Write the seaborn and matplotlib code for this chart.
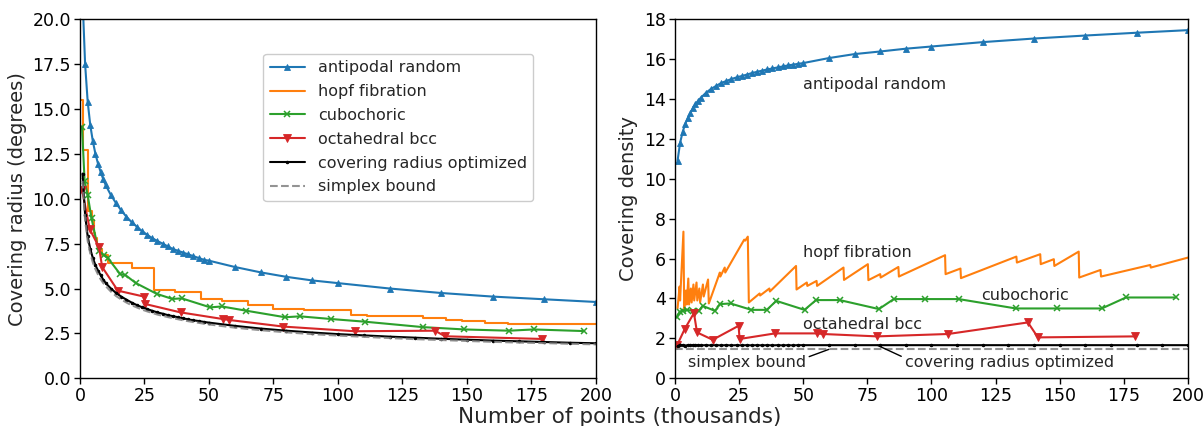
import pandas as pd
import seaborn as sns
import matplotlib.pyplot as plt

# Number of points (thousands)
dense_x = [1, 2, 3, 4, 5, 6, 7, 8, 9, 10, 12, 14, 16, 18, 20, 22, 24, 26, 28, 30,
           32, 34, 36, 38, 40, 42, 44, 46, 48, 50]
antipodal_x = dense_x + [60, 70, 80, 90, 100, 120, 140, 160, 180, 200]
antipodal_radius = [21.2, 17.5, 15.4, 14.1, 13.2, 12.5, 11.95, 11.5, 11.1, 10.75,
                    10.2, 9.75, 9.35, 9.0, 8.7, 8.45, 8.2, 8.0, 7.8, 7.65,
                    7.5, 7.35, 7.2, 7.1, 7.0, 6.9, 6.8, 6.7, 6.6, 6.55,
                    6.2, 5.9, 5.65, 5.45, 5.3, 5.0, 4.75, 4.55, 4.4, 4.25]
antipodal_density = [10.9, 11.8, 12.35, 12.75, 13.05, 13.3, 13.55, 13.75, 13.9, 14.05,
                     14.3, 14.5, 14.65, 14.8, 14.9, 15.0, 15.08, 15.15, 15.22, 15.3,
                     15.36, 15.42, 15.48, 15.53, 15.58, 15.63, 15.68, 15.72, 15.76, 15.8,
                     16.05, 16.25, 16.38, 16.52, 16.63, 16.85, 17.03, 17.18, 17.32, 17.45]

# hopf fibration: radius is a staircase, density a sawtooth
hopf_step_x = [0.3, 1.3, 3.3, 4.6, 5.3, 6.0, 6.6, 7.9, 8.6, 10.9, 20.0, 28.8, 36.8,
               46.8, 55.0, 65.0, 75.0, 86.8, 105.0, 111.3, 133.0, 142.0, 148.0,
               157.0, 166.0, 185.0, 200.0]
hopf_radius = [15.5, 12.7, 9.3, 8.8, 8.1, 7.8, 7.4, 7.2, 6.85, 6.4, 6.15, 4.89, 4.80,
               4.43, 4.28, 4.10, 3.88, 3.78, 3.55, 3.48, 3.37, 3.25, 3.18,
               3.07, 3.02, 3.0, 3.0]
hopf_saw_x = [1.0, 1.8, 2.0, 3.3, 3.6, 4.3, 4.6, 5.2, 5.5, 6.2, 6.5, 7.2, 7.5, 8.4,
              8.7, 9.5, 9.8, 10.9, 11.2, 12.9, 13.2, 17.5, 17.7, 19.4, 19.6, 27.0,
              27.4, 28.4, 28.8, 33.0, 33.2, 36.8, 37.0, 47.2, 47.4, 51.4, 51.6, 55.2,
              55.4, 65.7, 65.9, 75.2, 75.4, 80.0, 80.2, 87.1, 87.3, 105.3, 105.5,
              111.3, 111.5, 133.1, 133.3, 142.4, 142.6, 147.7, 147.9, 157.4, 157.6,
              165.9, 166.1, 185.3, 185.5, 200.0]
hopf_density = [3.5, 4.6, 3.9, 7.35, 3.4, 4.4, 3.7, 5.0, 3.7, 4.5, 3.8, 4.7, 3.9, 4.8,
                3.9, 4.5, 3.8, 4.7, 4.1, 4.95, 3.75, 5.3, 5.1, 5.55, 5.3, 6.95,
                6.9, 7.1, 3.8, 4.25, 4.15, 4.5, 4.35, 5.63, 4.45, 4.8, 4.63, 4.88,
                4.63, 5.55, 4.93, 5.72, 4.92, 5.22, 5.05, 5.58, 5.1, 6.17, 5.22,
                5.5, 5.02, 6.1, 5.8, 6.22, 5.72, 5.97, 5.63, 6.35, 5.05,
                5.43, 5.1, 5.68, 5.55, 6.05]

cubo_x = [0.8, 1.8, 3.0, 4.5, 7.2, 9.3, 10.8, 15.6, 17.6, 21.7, 29.8, 35.8, 39.5,
          50.5, 55.0, 64.2, 79.5, 85.3, 97.4, 110.6, 132.9, 149.0, 166.4, 175.8, 195.3]
cubo_radius = [14.0, 11.0, 10.2, 8.9, 7.1, 6.85, 6.7, 5.8, 5.75, 5.3, 4.7, 4.42, 4.45,
               3.95, 4.0, 3.77, 3.4, 3.45, 3.3, 3.15, 2.85, 2.72, 2.65, 2.72, 2.63]
cubo_density = [3.05, 3.33, 3.38, 3.43, 3.38, 3.38, 3.63, 3.38, 3.72, 3.75, 3.43, 3.43,
                3.88, 3.43, 3.92, 3.92, 3.47, 3.97, 3.97, 3.97, 3.5, 3.5, 3.5, 4.05, 4.05]

octa_x = [0.8, 3.8, 7.4, 8.6, 14.7, 24.8, 25.2, 39.0, 55.4, 57.7, 78.8, 106.5, 137.6,
          141.5, 179.2]
octa_radius = [10.5, 8.3, 7.3, 6.2, 4.88, 4.55, 4.14, 3.67, 3.3, 3.25, 2.88, 2.62, 2.65,
               2.34, 2.19]
octa_density = [1.65, 2.47, 3.27, 2.3, 1.93, 2.63, 1.97, 2.25, 2.25, 2.22, 2.1, 2.22, 2.8,
                2.05, 2.1]

opt_x = dense_x + [60, 70, 80, 90, 100, 110, 120, 130, 140, 150, 160, 170, 180, 190, 200]
opt_radius = [11.4, 9.1, 7.9, 7.2, 6.7, 6.3, 6.0, 5.75, 5.5, 5.3,
              5.0, 4.75, 4.55, 4.38, 4.22, 4.08, 3.96, 3.86, 3.76, 3.67,
              3.6, 3.52, 3.46, 3.4, 3.34, 3.28, 3.23, 3.19, 3.14, 3.1,
              2.92, 2.77, 2.65, 2.55, 2.46, 2.39, 2.32, 2.26, 2.2, 2.15,
              2.1, 2.06, 2.02, 1.98, 1.95]
opt_density = [1.6, 1.68, 1.66, 1.64, 1.66, 1.65, 1.66, 1.65, 1.66, 1.65,
               1.66, 1.65, 1.66, 1.65, 1.66, 1.65, 1.66, 1.65, 1.66, 1.65,
               1.66, 1.65, 1.66, 1.65, 1.66, 1.65, 1.66, 1.65, 1.66, 1.66,
               1.66, 1.66, 1.66, 1.66, 1.66, 1.66, 1.66, 1.66, 1.66, 1.66,
               1.66, 1.66, 1.66, 1.66, 1.66]

simplex_radius = [11.0, 8.8, 7.65, 6.95, 6.45, 6.08, 5.78, 5.52, 5.31, 5.13,
                  4.83, 4.58, 4.39, 4.22, 4.07, 3.95, 3.83, 3.73, 3.64, 3.55,
                  3.48, 3.41, 3.35, 3.29, 3.23, 3.18, 3.13, 3.09, 3.04, 3.0,
                  2.82, 2.68, 2.56, 2.46, 2.38, 2.31, 2.24, 2.18, 2.13, 2.08,
                  2.03, 1.99, 1.96, 1.92, 1.89]
simplex_density_x = [0.0, 200.0]
simplex_density = [1.45, 1.45]

BLUE, ORANGE, GREEN, RED = '#1f77b4', '#ff7f0e', '#2ca02c', '#d62728'

sns.set_style('ticks')
plt.rcParams['font.family'] = ['DejaVu Sans']
plt.rcParams['axes.edgecolor'] = 'black'
plt.rcParams['axes.linewidth'] = 1.0

fig = plt.figure(figsize=(12.04, 4.26), dpi=100)
ax1 = fig.add_axes([0.0664, 0.112, 0.4286, 0.843])
ax2 = fig.add_axes([0.5606, 0.112, 0.4261, 0.843])


def line(ax, x, y, color, **kw):
    df = pd.DataFrame({'x': x, 'y': y})
    sns.lineplot(data=df, x='x', y='y', ax=ax, estimator=None, sort=False,
                 color=color, markeredgecolor=color, linewidth=1.5, **kw)


STYLES = {
    'antipodal': dict(color=BLUE, marker='^', markersize=5, markeredgewidth=0.6),
    'hopf': dict(color=ORANGE),
    'cubo': dict(color=GREEN, marker='x', markersize=4.5, markeredgewidth=1.1),
    'octa': dict(color=RED, marker='v', markersize=5.5, markeredgewidth=0.6),
    'opt': dict(color='black', marker='.', markersize=3.5),
    'simplex': dict(color='gray', linestyle='--', alpha=0.85),
}

# Left: covering radius
line(ax1, antipodal_x, antipodal_radius, label='antipodal random', **STYLES['antipodal'])
line(ax1, hopf_step_x, hopf_radius, drawstyle='steps-post', label='hopf fibration',
     **STYLES['hopf'])
line(ax1, cubo_x, cubo_radius, label='cubochoric', **STYLES['cubo'])
line(ax1, octa_x, octa_radius, label='octahedral bcc', **STYLES['octa'])
line(ax1, opt_x, opt_radius, label='covering radius optimized', **STYLES['opt'])
line(ax1, opt_x, simplex_radius, label='simplex bound', **STYLES['simplex'])

# Right: covering density
line(ax2, antipodal_x, antipodal_density, **STYLES['antipodal'])
line(ax2, hopf_saw_x, hopf_density, **STYLES['hopf'])
line(ax2, cubo_x, cubo_density, **STYLES['cubo'])
line(ax2, octa_x, octa_density, **STYLES['octa'])
line(ax2, opt_x, opt_density, **STYLES['opt'])
line(ax2, simplex_density_x, simplex_density, **STYLES['simplex'])

for ax in (ax1, ax2):
    ax.set_xlim(0, 200)
    ax.set_xticks([0, 25, 50, 75, 100, 125, 150, 175, 200])
    ax.tick_params(labelsize=12.5, length=4, width=1, colors='black', pad=2.5)
    ax.set_xlabel('')

ax1.set_ylim(0, 20)
ax1.set_yticks([0, 2.5, 5, 7.5, 10, 12.5, 15, 17.5, 20])
ax1.set_yticklabels([f'{v:.1f}' for v in ax1.get_yticks()])
ax1.set_ylabel('Covering radius (degrees)', fontsize=14)
ax1.legend(loc='upper left', bbox_to_anchor=(0.34, 0.925), fontsize=11.5,
           handlelength=2.2, labelspacing=0.55, framealpha=1, edgecolor='#cccccc')

ax2.set_ylim(0, 18)
ax2.set_yticks([0, 2, 4, 6, 8, 10, 12, 14, 16, 18])
ax2.set_ylabel('Covering density', fontsize=14)
if ax2.get_legend():
    ax2.get_legend().remove()

tkw = dict(fontsize=11.5, va='center', ha='left')
ax2.text(50, 14.75, 'antipodal random', **tkw)
ax2.text(50, 6.3, 'hopf fibration', **tkw)
ax2.text(119.5, 4.15, 'cubochoric', **tkw)
ax2.text(50, 2.7, 'octahedral bcc', **tkw)
ax2.annotate('simplex bound', xy=(60, 1.45), xytext=(5, 0.8), fontsize=11.5,
             va='center', ha='left',
             arrowprops=dict(arrowstyle='-', color='black', lw=1,
                             shrinkA=0, shrinkB=0, relpos=(1.0, 0.8)))
ax2.annotate('covering radius optimized', xy=(79, 1.65), xytext=(89.5, 0.8),
             fontsize=11.5, va='center', ha='left',
             arrowprops=dict(arrowstyle='-', color='black', lw=1,
                             shrinkA=0, shrinkB=0, relpos=(0.0, 0.8)))

fig.text(0.515, 0.022, 'Number of points (thousands)', fontsize=15.5,
         ha='center', va='center')

fig.savefig('out.png', dpi=100)
